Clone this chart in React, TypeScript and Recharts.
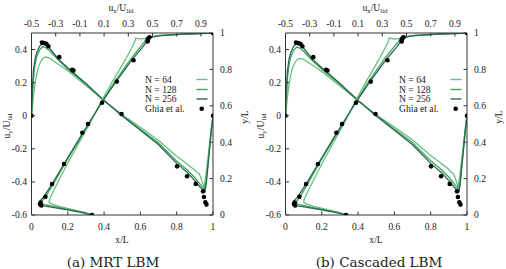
import React from "react";
import { ComposedChart, Line, Scatter, XAxis, YAxis } from "recharts";

type Pair = [number, number];

const xTicks = [0, 0.2, 0.4, 0.6, 0.8, 1];
const uyTicks = [-0.6, -0.4, -0.2, 0, 0.2, 0.4];
const uxTicks = [-0.5, -0.3, -0.1, 0.1, 0.3, 0.5, 0.7, 0.9];
const yTicks = [0, 0.2, 0.4, 0.6, 0.8, 1];

const seriesNames = ["N = 64", "N = 128", "N = 256"];
const seriesColors = ["#66c07e", "#40a062", "#2c6a50"];
const captions = ["(a) MRT LBM", "(b) Cascaded LBM"];

// Ghia et al., same in both panels
// [x/L, uy/Ulid] on the horizontal centreline
const ghiaUy: Pair[] = [
  [0, 0], [0.058, 0.442], [0.069, 0.439], [0.082, 0.435], [0.093, 0.42],
  [0.153, 0.354], [0.224, 0.278], [0.231, 0.273], [0.496, 0.01],
  [0.802, -0.306], [0.857, -0.366], [0.905, -0.412], [0.945, -0.457],
  [0.95, -0.491], [0.958, -0.523], [0.964, -0.537], [1, 0],
];
// [ux/Ulid, y/L] on the vertical centreline
const ghiaUx: Pair[] = [
  [0, 0], [-0.42, 0.052], [-0.43, 0.06], [-0.425, 0.068], [-0.385, 0.1],
  [-0.33, 0.17], [-0.232, 0.28], [-0.08, 0.452], [-0.033, 0.5],
  [0.083, 0.617], [0.205, 0.733], [0.343, 0.85], [0.46, 0.953],
  [0.46, 0.961], [0.465, 0.969], [0.475, 0.977], [1, 1],
];

// MRT LBM
const mrtUy64: Pair[] = [
  [0, 0], [0.01, 0.11], [0.02, 0.2], [0.035, 0.285], [0.05, 0.325], [0.065, 0.348],
  [0.08, 0.355], [0.1, 0.348], [0.15, 0.31], [0.2, 0.272], [0.3, 0.182], [0.4, 0.09],
  [0.5, 0.005], [0.6, -0.07], [0.7, -0.15], [0.8, -0.245], [0.86, -0.295], [0.89, -0.32],
  [0.912, -0.342], [0.925, -0.352], [0.937, -0.385], [0.95, -0.436], [0.96, -0.37],
  [0.975, -0.23], [0.99, -0.08], [1, 0],
];
const mrtUy128: Pair[] = [
  [0, 0], [0.005, 0.12], [0.01, 0.22], [0.02, 0.315], [0.03, 0.36], [0.045, 0.398],
  [0.062, 0.418], [0.08, 0.41], [0.1, 0.393], [0.15, 0.333], [0.2, 0.283], [0.3, 0.19],
  [0.4, 0.092], [0.5, 0.002], [0.6, -0.082], [0.7, -0.165], [0.8, -0.275], [0.86, -0.33],
  [0.9, -0.375], [0.93, -0.415], [0.952, -0.445], [0.962, -0.4], [0.975, -0.26],
  [0.99, -0.09], [1, 0],
];
const mrtUy256: Pair[] = [
  [0, 0], [0.005, 0.15], [0.01, 0.27], [0.02, 0.345], [0.03, 0.385], [0.045, 0.42],
  [0.06, 0.437], [0.075, 0.432], [0.1, 0.408], [0.15, 0.34], [0.2, 0.29], [0.3, 0.195],
  [0.4, 0.092], [0.5, -0.002], [0.6, -0.088], [0.7, -0.175], [0.8, -0.288], [0.86, -0.345],
  [0.9, -0.392], [0.93, -0.432], [0.955, -0.46], [0.962, -0.42], [0.975, -0.27],
  [0.99, -0.1], [1, 0],
];
const mrtUx64: Pair[] = [
  [0, 0], [-0.06, 0.015], [-0.16, 0.03], [-0.27, 0.048], [-0.33, 0.06], [-0.355, 0.07],
  [-0.35, 0.085], [-0.335, 0.11], [-0.29, 0.17], [-0.205, 0.28], [-0.06, 0.453],
  [-0.02, 0.5], [0.07, 0.617], [0.17, 0.734], [0.275, 0.852], [0.33, 0.92], [0.352, 0.95],
  [0.36, 0.972], [0.4, 0.966], [0.45, 0.972], [0.55, 0.985], [0.75, 0.993], [1, 1],
];
const mrtUx128: Pair[] = [
  [0, 0], [-0.065, 0.013], [-0.17, 0.027], [-0.29, 0.043], [-0.38, 0.055], [-0.415, 0.064],
  [-0.41, 0.078], [-0.385, 0.1], [-0.32, 0.17], [-0.225, 0.28], [-0.07, 0.453],
  [-0.027, 0.5], [0.078, 0.617], [0.19, 0.734], [0.315, 0.852], [0.395, 0.92], [0.432, 0.95],
  [0.445, 0.965], [0.465, 0.975], [0.55, 0.986], [0.75, 0.994], [1, 1],
];
const mrtUx256: Pair[] = [
  [0, 0], [-0.07, 0.012], [-0.18, 0.025], [-0.31, 0.04], [-0.4, 0.05], [-0.44, 0.06],
  [-0.432, 0.075], [-0.4, 0.1], [-0.33, 0.17], [-0.232, 0.28], [-0.075, 0.453],
  [-0.03, 0.5], [0.08, 0.617], [0.2, 0.734], [0.33, 0.852], [0.415, 0.92], [0.45, 0.95],
  [0.462, 0.965], [0.48, 0.976], [0.56, 0.986], [0.75, 0.994], [1, 1],
];

// Cascaded LBM
const casUy64: Pair[] = [
  [0, 0], [0.01, 0.105], [0.02, 0.195], [0.035, 0.277], [0.05, 0.318], [0.065, 0.34],
  [0.08, 0.346], [0.1, 0.34], [0.15, 0.305], [0.2, 0.268], [0.3, 0.18], [0.4, 0.09],
  [0.5, 0.006], [0.6, -0.068], [0.7, -0.147], [0.8, -0.24], [0.86, -0.29], [0.89, -0.315],
  [0.912, -0.338], [0.925, -0.35], [0.937, -0.382], [0.95, -0.43], [0.96, -0.365],
  [0.975, -0.225], [0.99, -0.08], [1, 0],
];
const casUy128: Pair[] = [
  [0, 0], [0.005, 0.12], [0.01, 0.22], [0.02, 0.312], [0.03, 0.357], [0.045, 0.395],
  [0.062, 0.415], [0.08, 0.408], [0.1, 0.39], [0.15, 0.331], [0.2, 0.282], [0.3, 0.19],
  [0.4, 0.092], [0.5, 0.003], [0.6, -0.08], [0.7, -0.163], [0.8, -0.272], [0.86, -0.327],
  [0.9, -0.372], [0.93, -0.412], [0.952, -0.442], [0.962, -0.4], [0.975, -0.26],
  [0.99, -0.09], [1, 0],
];
const casUy256: Pair[] = [
  [0, 0], [0.005, 0.15], [0.01, 0.27], [0.02, 0.345], [0.03, 0.385], [0.045, 0.42],
  [0.06, 0.437], [0.075, 0.432], [0.1, 0.408], [0.15, 0.34], [0.2, 0.29], [0.3, 0.195],
  [0.4, 0.092], [0.5, -0.002], [0.6, -0.088], [0.7, -0.175], [0.8, -0.288], [0.86, -0.345],
  [0.9, -0.392], [0.93, -0.432], [0.955, -0.46], [0.962, -0.42], [0.975, -0.27],
  [0.99, -0.1], [1, 0],
];
const casUx64: Pair[] = [
  [0, 0], [-0.058, 0.015], [-0.155, 0.03], [-0.265, 0.048], [-0.325, 0.06], [-0.35, 0.07],
  [-0.345, 0.085], [-0.33, 0.11], [-0.285, 0.17], [-0.2, 0.28], [-0.058, 0.453],
  [-0.018, 0.5], [0.07, 0.617], [0.168, 0.734], [0.27, 0.852], [0.325, 0.92], [0.348, 0.95],
  [0.357, 0.972], [0.4, 0.966], [0.45, 0.972], [0.55, 0.985], [0.75, 0.993], [1, 1],
];
const casUx128: Pair[] = [
  [0, 0], [-0.065, 0.013], [-0.17, 0.027], [-0.29, 0.043], [-0.375, 0.055], [-0.41, 0.064],
  [-0.405, 0.078], [-0.38, 0.1], [-0.318, 0.17], [-0.223, 0.28], [-0.07, 0.453],
  [-0.027, 0.5], [0.078, 0.617], [0.188, 0.734], [0.312, 0.852], [0.392, 0.92], [0.43, 0.95],
  [0.443, 0.965], [0.463, 0.975], [0.55, 0.986], [0.75, 0.994], [1, 1],
];
const casUx256: Pair[] = [
  [0, 0], [-0.07, 0.012], [-0.18, 0.025], [-0.31, 0.04], [-0.4, 0.05], [-0.44, 0.06],
  [-0.432, 0.075], [-0.4, 0.1], [-0.33, 0.17], [-0.232, 0.28], [-0.075, 0.453],
  [-0.03, 0.5], [0.08, 0.617], [0.2, 0.734], [0.33, 0.852], [0.415, 0.92], [0.45, 0.95],
  [0.462, 0.965], [0.48, 0.976], [0.56, 0.986], [0.75, 0.994], [1, 1],
];

const panels = [
  { uy: [mrtUy64, mrtUy128, mrtUy256], ux: [mrtUx64, mrtUx128, mrtUx256] },
  { uy: [casUy64, casUy128, casUy256], ux: [casUx64, casUx128, casUx256] },
];

const toUy = (p: Pair[]) => p.map(([x, v]) => ({ x, v }));
const toUx = (p: Pair[]) => p.map(([u, y]) => ({ u, y }));

const SERIF = "Liberation Serif, Times New Roman, serif";
const FS = 9.6;
const SUB = 6.8;
const AX = "#333";
const INK = "#1a1a1a";
const fmt = (v: number) => String(Number(v.toFixed(1)));

const T = (props: any) => <text fontFamily={SERIF} fontSize={FS} fill={INK} {...props} />;

const Tick = (props: any) => {
  const { x, y, payload, side } = props;
  const t = fmt(payload.value);
  if (side === "bottom")
    return (
      <g>
        <line x1={x} x2={x} y1={y} y2={y - 3.5} stroke={AX} />
        <T x={x} y={y + 14.5} textAnchor="middle">{t}</T>
      </g>
    );
  if (side === "top")
    return (
      <g>
        <line x1={x} x2={x} y1={y} y2={y + 3.5} stroke={AX} />
        <T x={x} y={y - 6} textAnchor="middle">{t}</T>
      </g>
    );
  if (side === "left")
    return (
      <g>
        <line x1={x} x2={x + 3.5} y1={y} y2={y} stroke={AX} />
        <T x={x - 4.5} y={y + 3.3} textAnchor="end">{t}</T>
      </g>
    );
  return (
    <g>
      <line x1={x} x2={x - 3.5} y1={y} y2={y} stroke={AX} />
      <T x={x + 7} y={y + 3.3} textAnchor="start">{t}</T>
    </g>
  );
};

const TopTitle = () => (
  <T x={121} y={11} textAnchor="middle">
    u<tspan fontSize={SUB} dy={2}>x</tspan>
    <tspan dy={-2}>/U</tspan>
    <tspan fontSize={SUB} dy={2}>lid</tspan>
  </T>
);
const BottomTitle = () => (
  <T x={122} y={243} textAnchor="middle">x/L</T>
);
const LeftTitle = () => (
  <T transform="translate(10,126) rotate(-90)" textAnchor="middle">
    u<tspan fontSize={SUB} dy={2}>y</tspan>
    <tspan dy={-2}>/U</tspan>
    <tspan fontSize={SUB} dy={2}>lid</tspan>
  </T>
);
const RightTitle = () => (
  <T transform="translate(248,117) rotate(-90)" textAnchor="middle">y/L</T>
);

const Dot = (props: any) => <circle cx={props.cx} cy={props.cy} r={2.3} fill="#000" />;

const Legend = () => {
  const rows = [79.5, 89.5, 99, 108.7];
  return (
    <svg width={253} height={250} style={{ position: "absolute", left: 0, top: 0, pointerEvents: "none" }}>
      {seriesNames.map((n, i) => (
        <g key={n}>
          <T x={145} y={rows[i] + 3.3}>{n}</T>
          <line x1={196.5} x2={207.5} y1={rows[i]} y2={rows[i]} stroke={seriesColors[i]} strokeWidth={1.4} />
        </g>
      ))}
      <T x={145} y={rows[3] + 3.3}>Ghia et al.</T>
      <circle cx={201.7} cy={rows[3]} r={2.3} fill="#000" />
    </svg>
  );
};

const Panel = ({ idx }: { idx: number }) => {
  const p = panels[idx];
  return (
    <div style={{ position: "absolute", left: idx === 0 ? 0 : 254, top: 0, width: 253, height: 269 }}>
      <ComposedChart width={253} height={250} margin={{ top: 0, right: 0, bottom: 0, left: 0 }}>
        <XAxis xAxisId="b" dataKey="x" type="number" orientation="bottom" domain={[0, 1]} ticks={xTicks}
          allowDataOverflow interval={0} height={35} tickSize={0} tickMargin={0} tickLine={false}
          axisLine={{ stroke: AX }} tick={(t: any) => <Tick {...t} side="bottom" />} label={<BottomTitle />} />
        <XAxis xAxisId="t" dataKey="u" type="number" orientation="top" domain={[-0.5, 1]} ticks={uxTicks}
          allowDataOverflow interval={0} height={33} tickSize={0} tickMargin={0} tickLine={false}
          axisLine={{ stroke: AX }} tick={(t: any) => <Tick {...t} side="top" />} label={<TopTitle />} />
        <YAxis yAxisId="l" dataKey="v" type="number" orientation="left" domain={[-0.6, 0.5]} ticks={uyTicks}
          allowDataOverflow interval={0} width={31.5} tickSize={0} tickMargin={0} tickLine={false}
          axisLine={{ stroke: AX }} tick={(t: any) => <Tick {...t} side="left" />} label={<LeftTitle />} />
        <YAxis yAxisId="r" dataKey="y" type="number" orientation="right" domain={[0, 1]} ticks={yTicks}
          allowDataOverflow interval={0} width={40} tickSize={0} tickMargin={0} tickLine={false}
          axisLine={{ stroke: AX }} tick={(t: any) => <Tick {...t} side="right" />} label={<RightTitle />} />
        {p.uy.map((s, i) => (
          <Line key={"uy" + i} data={toUy(s)} xAxisId="b" yAxisId="l" dataKey="v" type="linear"
            stroke={seriesColors[i]} strokeWidth={1.3} dot={false} isAnimationActive={false} />
        ))}
        {p.ux.map((s, i) => (
          <Line key={"ux" + i} data={toUx(s)} xAxisId="t" yAxisId="r" dataKey="y" type="linear"
            stroke={seriesColors[i]} strokeWidth={1.3} dot={false} isAnimationActive={false} />
        ))}
        <Scatter data={toUy(ghiaUy)} xAxisId="b" yAxisId="l" shape={<Dot />} isAnimationActive={false} />
        <Scatter data={toUx(ghiaUx)} xAxisId="t" yAxisId="r" shape={<Dot />} isAnimationActive={false} />
      </ComposedChart>
      <Legend />
      <div style={{ position: "absolute", top: 255, left: idx === 0 ? 13 : 25, width: 200, textAlign: "center",
        fontFamily: "DejaVu Serif, Liberation Serif, serif", fontSize: 13.5, lineHeight: "15px", color: INK }}>
        {captions[idx]}
      </div>
    </div>
  );
}

export default function App() {
  return (
    <div style={{ position: "relative", width: 506, height: 269, background: "#fff",
      fontFamily: SERIF, overflow: "hidden" }}>
      <style>{"body{margin:0}"}</style>
      <Panel idx={0} />
      <Panel idx={1} />
    </div>
  );
}
